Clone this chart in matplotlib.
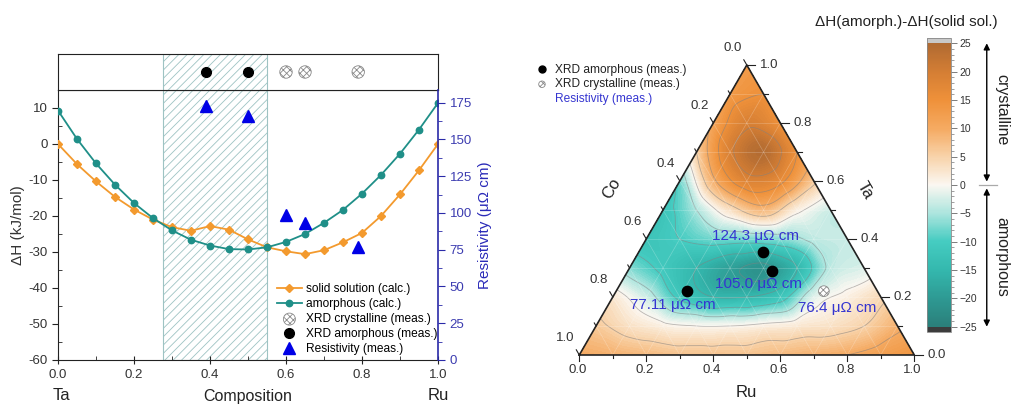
import numpy as np
import matplotlib
matplotlib.use("Agg")
import matplotlib.pyplot as plt
import matplotlib.tri as mtri
from matplotlib.colors import LinearSegmentedColormap, Normalize
from matplotlib.cm import ScalarMappable
from matplotlib.lines import Line2D
from matplotlib.legend_handler import HandlerPathCollection
from matplotlib.ticker import MultipleLocator, FuncFormatter

plt.rcParams['font.family'] = ['Liberation Sans', 'DejaVu Sans']
plt.rcParams['axes.unicode_minus'] = False
plt.rcParams['hatch.linewidth'] = 0.6
plt.rcParams['hatch.color'] = '#7a7a7a'

# --- binary Ta-Ru data (left panel)
comp = [0.0, 0.05, 0.1, 0.15, 0.2, 0.25, 0.3, 0.35, 0.4, 0.45, 0.5,
        0.55, 0.6, 0.65, 0.7, 0.75, 0.8, 0.85, 0.9, 0.95, 1.0]
dh_solid = [0.0, -5.6, -10.4, -14.7, -18.2, -21.0, -23.1, -24.1, -22.8, -23.8, -26.5,
            -28.7, -29.8, -30.6, -29.5, -27.3, -24.7, -20.0, -14.0, -7.3, 0.0]
dh_amorph = [9.3, 1.4, -5.4, -11.3, -16.4, -20.6, -24.0, -26.6, -28.2, -29.2, -29.3,
             -28.7, -27.2, -25.0, -21.9, -18.3, -13.8, -8.6, -2.7, 4.0, 11.4]
xrd_amorph_x = [0.39, 0.50]
xrd_cryst_x = [0.60, 0.65, 0.79]
rho_x = [0.39, 0.50, 0.60, 0.65, 0.79]
rho_val = [172.5, 166.0, 98.5, 93.5, 77.0]
amorph_window = [0.275, 0.55]

# --- ternary Co-Ru-Ta map: dH(amorph)-dH(solid sol) on a 0.1 grid
# rows: Ta = 0.0 ... 1.0, columns: Ru = 0.0 ... 1-Ta
dh_rows = [
    [10, 9, 8, 7, 7, 7, 8, 9, 10, 12, 14],
    [6, 3, 1, 0, 0, 1, 2, 3, 5, 9],
    [2, -3, -11, -15, -15, -12, -2, 1, 4],
    [-7, -11, -15, -19, -21, -15, -4, -2],
    [-12, -10, -8, -8, -7, -4, -3],
    [-12, -5, 3, 8, 1, -3],
    [-8, 9, 18, 16, 6],
    [5, 19, 24, 15],
    [11, 19, 15],
    [13, 15],
    [13],
]
grid_step = 0.1
tern_am_ru = [0.21, 0.37, 0.43]
tern_am_ta = [0.22, 0.355, 0.29]
tern_cr_ru = [0.62]
tern_cr_ta = [0.22]
tern_rho = ["77.11", "124.3", "105.0", "76.4"]
# label offsets (px) relative to the marker they belong to
tern_rho_off = [(-14, -14), (-7, 16), (-13, -13), (13, -17)]

orange = '#F39A2E'
teal = '#1F8F88'
blue = '#0000E6'
axblue = '#2A2AA8'

W, H = 1019, 405
fig = plt.figure(figsize=(W / 100, H / 100), dpi=100)


def px(l, t, r, b):
    return [l / W, 1 - b / H, (r - l) / W, (b - t) / H]


# ================= left panel =================
ax = fig.add_axes(px(58, 90, 438, 360))
axs = fig.add_axes(px(58, 54, 438, 90))
axr = ax.twinx()

for a in (ax, axs):
    a.axvspan(amorph_window[0], amorph_window[1], facecolor='white',
              edgecolor='#9ec3c3', hatch='////', lw=0.8, zorder=0)

l_solid, = ax.plot(comp, dh_solid, color=orange, marker='D', ms=4.2, lw=1.3, zorder=3,
                   label='solid solution (calc.)')
l_amorph, = ax.plot(comp, dh_amorph, color=teal, marker='o', ms=4.6, lw=1.3, zorder=3,
                    label='amorphous (calc.)')
ax.set_xlim(0, 1)
ax.set_ylim(-60, 15)
ax.set_yticks(range(-60, 11, 10))
ax.yaxis.set_minor_locator(MultipleLocator(5))
ax.set_xticks(np.arange(0, 1.01, 0.2))
ax.xaxis.set_minor_locator(MultipleLocator(0.1))
ax.xaxis.set_major_formatter(FuncFormatter(lambda v, p: f"{v:.1f}"))
ax.tick_params(which='major', direction='inout', length=6, labelsize=9.5, colors='#222',
               labelcolor='#333')
ax.tick_params(which='minor', direction='in', length=3, colors='#222')
ax.tick_params(axis='y', which='major', direction='out', length=4)
ax.set_ylabel('ΔH (kJ/mol)', fontsize=11, color='#333', labelpad=2)
ax.spines['right'].set_visible(False)
for s in ('left', 'bottom', 'top'):
    ax.spines[s].set_color('#222')

l_rho, = axr.plot(rho_x, rho_val, ls='none', marker='^', ms=9, color=blue,
                  label='Resistivity (meas.)')
axr.set_ylim(0, 183.6)
axr.set_yticks(range(0, 176, 25))
axr.yaxis.set_minor_locator(MultipleLocator(12.5))
axr.spines['right'].set_color(axblue)
axr.spines['right'].set_linewidth(1.2)
for s in ('left', 'bottom', 'top'):
    axr.spines[s].set_visible(False)
axr.tick_params(which='major', direction='out', length=5, colors=axblue, labelsize=9.5,
                labelcolor='#3c3cb0')
axr.tick_params(which='minor', direction='out', length=3, colors=axblue)
axr.set_ylabel('Resistivity (μΩ cm)', fontsize=11, color='#2a2ab8', labelpad=4)

l_xam, = axs.plot(xrd_amorph_x, [0.5] * len(xrd_amorph_x), ls='none', marker='o', ms=7,
                  color='black', label='XRD amorphous (meas.)')
s_xcr = axs.scatter(xrd_cryst_x, [0.5] * len(xrd_cryst_x), s=80, marker='o',
                    facecolor='white', edgecolor='#8a8a8a', hatch='xxxxx', lw=0.6,
                    label='XRD crystalline (meas.)')
axs.set_xlim(0, 1)
axs.set_ylim(0, 1)
axs.set_xticks([])
axs.set_yticks([])
for s in axs.spines.values():
    s.set_color('#222')

ax.legend(handles=[l_solid, l_amorph, s_xcr, l_xam, l_rho], loc='lower right',
          bbox_to_anchor=(1.01, 0.0), frameon=False, fontsize=8.6, labelspacing=0.25,
          handlelength=2.1, handletextpad=0.3, borderpad=0.2, borderaxespad=0.2,
          numpoints=1, scatterpoints=1,
          handler_map={s_xcr: HandlerPathCollection(sizes=[75])})

fig.text(61 / W, 1 - 396 / H, 'Ta', ha='center', va='center', fontsize=12, color='#222')
fig.text(248 / W, 1 - 396 / H, 'Composition', ha='center', va='center', fontsize=11.5,
         color='#222')
fig.text(438 / W, 1 - 396 / H, 'Ru', ha='center', va='center', fontsize=12, color='#222')

# ================= ternary panel =================
s3 = np.sqrt(3) / 2


def tern_xy(ru, ta):
    ru = np.asarray(ru, dtype=float)
    ta = np.asarray(ta, dtype=float)
    return ru + ta / 2, ta * s3


tx = fig.add_axes(px(579.3, 65, 914.3, 355))
tx.set_xlim(0, 1)
tx.set_ylim(0, s3)
tx.axis('off')

ru_g, ta_g, z_g = [], [], []
for j, row in enumerate(dh_rows):
    for i, v in enumerate(row):
        ru_g.append(i * grid_step)
        ta_g.append(j * grid_step)
        z_g.append(v)
xg, yg = tern_xy(ru_g, ta_g)
tri = mtri.Triangulation(xg, yg)
interp = mtri.CubicTriInterpolator(tri, np.array(z_g, dtype=float), kind='geom')
tri_f, z_f = mtri.UniformTriRefiner(tri).refine_field(np.array(z_g, dtype=float),
                                                       interp, subdiv=4)

cmap = LinearSegmentedColormap.from_list('dh', [
    (0.00, '#2B7F7A'), (0.10, '#2E9A93'), (0.20, '#34B8AE'), (0.30, '#45CCC1'),
    (0.40, '#ACE5DE'), (0.50, '#FBF7F1'), (0.60, '#F8D3AA'), (0.70, '#F5AA62'),
    (0.80, '#EF913A'), (0.90, '#D47E34'), (1.00, '#B06A32')])
cmap.set_over('#C8C8C8')
cmap.set_under('#3C3C3C')
norm = Normalize(-25, 25)

tx.tricontourf(tri_f, z_f, levels=np.linspace(-25, 25, 101), cmap=cmap, norm=norm,
               extend='both', zorder=1)
tx.tricontour(tri_f, z_f, levels=[-20, -15, -10, -5, 0, 5, 10, 15, 20], colors='#808080',
              linewidths=0.6, linestyles='solid', alpha=0.55, zorder=2)

# faint internal grid
for k in range(1, 10):
    v = k / 10
    xa, ya = tern_xy([0, 1 - v], [v, v])
    tx.plot(xa, ya, color='white', lw=0.5, alpha=0.25, zorder=2)
    xa, ya = tern_xy([v, v], [0, 1 - v])
    tx.plot(xa, ya, color='white', lw=0.5, alpha=0.25, zorder=2)
    xa, ya = tern_xy([0, 1 - v], [1 - v, 0])
    tx.plot(xa, ya, color='white', lw=0.5, alpha=0.25, zorder=2)

tx.plot([0, 1, 0.5, 0], [0, 0, s3, 0], color='#222', lw=1.2, clip_on=False, zorder=4)

u = 1 / 335  # one pixel in data units
for k in range(11):
    v = k / 10
    L = 6 * u if k % 2 == 0 else 3.5 * u
    # Ru (bottom)
    tx.plot([v, v], [0, -L], color='#222', lw=0.8, clip_on=False)
    # Ta (right)
    x0, y0 = tern_xy(1 - v, v)
    tx.plot([x0, x0 + L * 1.4], [y0, y0], color='#222', lw=0.8, clip_on=False)
    # Co (left)
    x1, y1 = tern_xy(0, 1 - v)
    tx.plot([x1, x1 - 0.5 * L], [y1, y1 + s3 * L], color='#222', lw=0.8, clip_on=False)
    if k % 2 == 0:
        tx.text(v - 2 * u, -15 * u, f"{v:.1f}", ha='center', va='center', fontsize=9.5,
                color='#333')
        tx.text(x0 + 13 * u, y0, f"{v:.1f}", ha='left', va='center', fontsize=9.5,
                color='#333')
        tx.text(x1 - 14 * u, y1 + 17 * u, f"{v:.1f}", ha='center', va='center',
                fontsize=9.5, color='#333')

tx.text(0.5, -38 * u, 'Ru', ha='center', va='center', fontsize=12, color='#222')
tx.text(0.097, 0.4985, 'Co', ha='center', va='center', fontsize=12, rotation=60,
        color='#222')
tx.text(0.853, 0.4925, 'Ta', ha='center', va='center', fontsize=12, rotation=-60,
        color='#222')

xa, ya = tern_xy(tern_am_ru, tern_am_ta)
t_am = tx.scatter(xa, ya, s=55, color='black', zorder=5, clip_on=False)
xc, yc = tern_xy(tern_cr_ru, tern_cr_ta)
t_cr = tx.scatter(xc, yc, s=60, marker='o', facecolor='white', edgecolor='#8a8a8a',
                  hatch='xxxxx', lw=0.6, zorder=5)

lab_x = list(xa) + list(xc)
lab_y = list(ya) + list(yc)
for lx, ly, txt, (dx, dy) in zip(lab_x, lab_y, tern_rho, tern_rho_off):
    tx.text(lx + dx * u, ly + dy * u, f"{txt} μΩ cm", ha='center', va='center',
            fontsize=11, color='#3535D0', zorder=6)

leg = fig.legend(handles=[Line2D([], [], ls='none', marker='o', ms=5, color='black'),
                          t_cr, Line2D([], [], ls='none')],
                 labels=['XRD amorphous (meas.)', 'XRD crystalline (meas.)',
                         'Resistivity (meas.)'],
                 handler_map={t_cr: HandlerPathCollection(sizes=[22])},
                 loc='upper left', bbox_to_anchor=(536 / W, 1 - 64 / H), frameon=False,
                 fontsize=8.6, handlelength=1.0, handletextpad=0.6, labelspacing=0.2,
                 borderpad=0, borderaxespad=0, scatterpoints=1)
for t, c in zip(leg.get_texts(), ['#222', '#222', '#3535D0']):
    t.set_color(c)

# ================= colorbar =================
cax = fig.add_axes(px(927, 38, 951, 332))
sm = ScalarMappable(norm=norm, cmap=cmap)
cb = fig.colorbar(sm, cax=cax, extend='both', extendrect=True, extendfrac=0.0187)
cb.outline.set_edgecolor('#888')
cb.outline.set_linewidth(0.6)
cb.set_ticks(range(-25, 26, 5))
cb.ax.yaxis.set_major_formatter(FuncFormatter(lambda v, p: f"{v:.0f}".replace('-', '\u2212')))
cb.ax.yaxis.set_minor_locator(MultipleLocator(1))
cb.ax.tick_params(which='major', length=4, width=0.6, colors='#666', labelsize=7.5,
                  labelcolor='#333', pad=2)
cb.ax.tick_params(which='minor', length=2, width=0.5, colors='#777')

ytr = cax.get_yaxis_transform()
arr = dict(arrowstyle='<|-|>', color='black', lw=1.0, mutation_scale=9,
           shrinkA=0, shrinkB=0)
cax.annotate('', xy=(2.49, 25), xytext=(2.49, 0.6), xycoords=ytr, textcoords=ytr,
             arrowprops=arr, annotation_clip=False)
cax.annotate('', xy=(2.49, -25), xytext=(2.49, -0.6), xycoords=ytr, textcoords=ytr,
             arrowprops=arr, annotation_clip=False)
cax.plot([2.17, 2.92], [0, 0], color='#aaaaaa', lw=0.9, transform=ytr, clip_on=False)
cax.text(3.11, 13.2, 'crystalline', transform=ytr, rotation=-90, ha='center',
         va='center', fontsize=11.5, color='#222')
cax.text(3.11, -12.7, 'amorphous', transform=ytr, rotation=-90, ha='center',
         va='center', fontsize=11.5, color='#222')
fig.text(906 / W, 1 - 22 / H, 'ΔH(amorph.)-ΔH(solid sol.)', ha='center', va='center',
         fontsize=11, color='#222')

fig.savefig('out.png', dpi=100)
